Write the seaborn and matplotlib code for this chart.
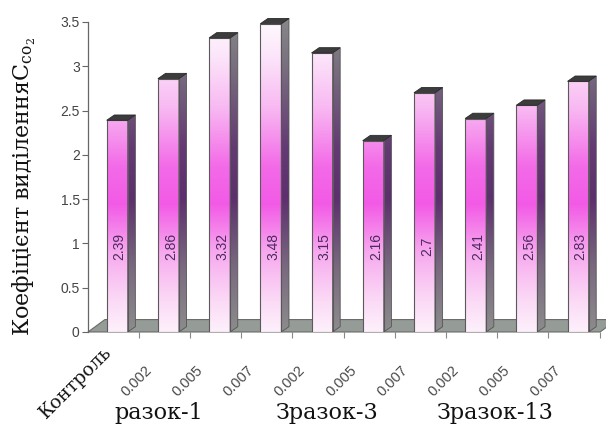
import numpy as np
import pandas as pd
import matplotlib
matplotlib.use("Agg")
import matplotlib.pyplot as plt
import matplotlib.transforms as mtransforms
from matplotlib.colors import LinearSegmentedColormap
from matplotlib.patches import Polygon
import seaborn as sns

# --- data -------------------------------------------------------------
tick_labels = ["Контроль", "0.002", "0.005", "0.007", "0.002", "0.005",
               "0.007", "0.002", "0.005", "0.007"]
values = [2.39, 2.86, 3.32, 3.48, 3.15, 2.16, 2.7, 2.41, 2.56, 2.83]
value_labels = ["2.39", "2.86", "3.32", "3.48", "3.15", "2.16", "2.7",
                "2.41", "2.56", "2.83"]
group_labels = ["разок-1", "Зразок-3", "Зразок-13"]
y_ticks = [0, 0.5, 1, 1.5, 2, 2.5, 3, 3.5]
y_tick_labels = ["0", "0.5", "1", "1.5", "2", "2.5", "3", "3.5"]

df = pd.DataFrame({"pos": range(len(values)), "value": values})

sns.set_theme(style="white")
plt.rcParams["font.family"] = ["DejaVu Sans"]
plt.rcParams["mathtext.fontset"] = "dejavuserif"

fig = plt.figure(figsize=(6.06, 4.26), dpi=100)
ax = fig.add_axes([0.1452, 0.2207, 0.845, 0.7277 * 3.6 / 3.5])

sns.barplot(data=df, x="pos", y="value", width=0.41, color="white",
            edgecolor="none", ax=ax, zorder=3)
bars = list(ax.patches)

YMAX = 3.6
XLIM = (-0.57, 9.43)
DX, DY = 0.15, 0.06           # depth of each bar
FDX, FDY = 0.33, 0.14         # depth of the floor

# vertical colour ramps in data units (0 .. YMAX)
front_cmap = LinearSegmentedColormap.from_list("front", [
    (0.0, "#fdf0fb"), (0.10, "#fbd9f6"), (0.25, "#f7a8ee"),
    (0.40, "#f25ae6"), (0.52, "#f36be8"), (0.70, "#f8b8f2"),
    (0.86, "#fce4fa"), (1.0, "#ffffff")])
side_cmap = LinearSegmentedColormap.from_list("side", [
    (0.0, "#8c8c8c"), (0.2, "#7a6a80"), (0.42, "#5d2f6e"),
    (0.58, "#643a74"), (0.85, "#7a7280"), (1.0, "#8a8a8a")])
ramp = np.linspace(0, 1, 256).reshape(-1, 1)

# floor under the bars
floor = Polygon([(XLIM[0], 0), (XLIM[1], 0), (XLIM[1] + FDX, FDY),
                 (XLIM[0] + FDX, FDY)], closed=True, facecolor="#959b97",
                edgecolor="#6a6a6a", lw=0.8, zorder=1, clip_on=False)
ax.add_patch(floor)

for i, bar in enumerate(bars):
    x0, w, h = bar.get_x(), bar.get_width(), bar.get_height()
    # front face gradient
    im = ax.imshow(ramp, cmap=front_cmap, origin="lower", aspect="auto",
                   extent=(x0, x0 + w, 0, YMAX), zorder=2, vmin=0, vmax=1)
    im.set_clip_path(bar)
    bar.set_facecolor("none")
    bar.set_edgecolor("#5a5a5a")
    bar.set_linewidth(0.8)
    # side face
    side = Polygon([(x0 + w, 0), (x0 + w + DX, DY), (x0 + w + DX, h + DY),
                    (x0 + w, h)], closed=True, facecolor="none",
                   edgecolor="#555555", lw=0.6, zorder=3)
    ax.add_patch(side)
    sim = ax.imshow(ramp, cmap=side_cmap, origin="lower", aspect="auto",
                    extent=(x0 + w, x0 + w + DX, 0, YMAX), zorder=2,
                    vmin=0, vmax=1)
    sim.set_clip_path(side)
    # top face
    top = Polygon([(x0, h), (x0 + DX, h + DY), (x0 + w + DX, h + DY),
                   (x0 + w, h)], closed=True, facecolor="#3c3c3c",
                  edgecolor="#2a2a2a", lw=0.6, zorder=3)
    ax.add_patch(top)
    # value label
    ax.text(x0 + w / 2 + 0.05, 0.97, value_labels[i], rotation=90,
            ha="center", va="center", fontsize=10, color="#4a2a5e",
            fontfamily="Liberation Sans", zorder=4)

ax.set_xlim(*XLIM)
ax.set_ylim(0, YMAX)

# axes styling
for s in ["top", "right", "bottom"]:
    ax.spines[s].set_visible(False)
ax.spines["left"].set_bounds(0, 3.5)
ax.spines["left"].set_color("#666666")
ax.spines["left"].set_linewidth(0.9)
ax.set_yticks(y_ticks)
ax.set_yticklabels(y_tick_labels, fontsize=10, color="#444444",
                   fontfamily="Liberation Sans")
ax.tick_params(axis="y", left=True, length=4, width=0.8, color="#666666",
               pad=2)
ax.set_xlabel("")
ax.set_ylabel("")

ax.set_xticks(range(len(values)))
ax.set_xticks([i + 0.42 for i in range(len(values))], minor=True)
ax.tick_params(axis="x", which="major", length=0, pad=2)
ax.tick_params(axis="x", which="minor", bottom=True, length=4, width=0.8,
               color="#888888")
ax.set_xticklabels(tick_labels)
for k, lab in enumerate(ax.get_xticklabels()):
    lab.set_rotation(45)
    lab.set_rotation_mode("anchor")
    lab.set_ha("right")
    lab.set_va("top")
    if k == 0:
        lab.set_fontfamily("DejaVu Serif")
        lab.set_fontsize(13.5)
        lab.set_color("#111111")
        off = mtransforms.ScaledTranslation(-15 / 100, -8 / 100,
                                            fig.dpi_scale_trans)
    else:
        lab.set_fontfamily("Liberation Sans")
        lab.set_fontsize(10.5)
        lab.set_color("#4a4a4a")
        off = mtransforms.ScaledTranslation(-24 / 100, -28 / 100,
                                            fig.dpi_scale_trans)
    lab.set_transform(lab.get_transform() + off)

# group captions under the tick labels
for gx, txt in zip([0.262, 0.54, 0.818], group_labels):
    fig.text(gx, 0.03, txt, ha="center", va="center", fontsize=16,
             fontfamily="DejaVu Serif", color="#111111")

fig.text(0.04, 0.561, "Коефіцієнт виділенняC$_{\\mathrm{co}_{2}}$",
         rotation=90, ha="center", va="center", fontsize=16,
         fontfamily="DejaVu Serif", color="#111111")

fig.savefig("out.png", dpi=100, facecolor="white")
